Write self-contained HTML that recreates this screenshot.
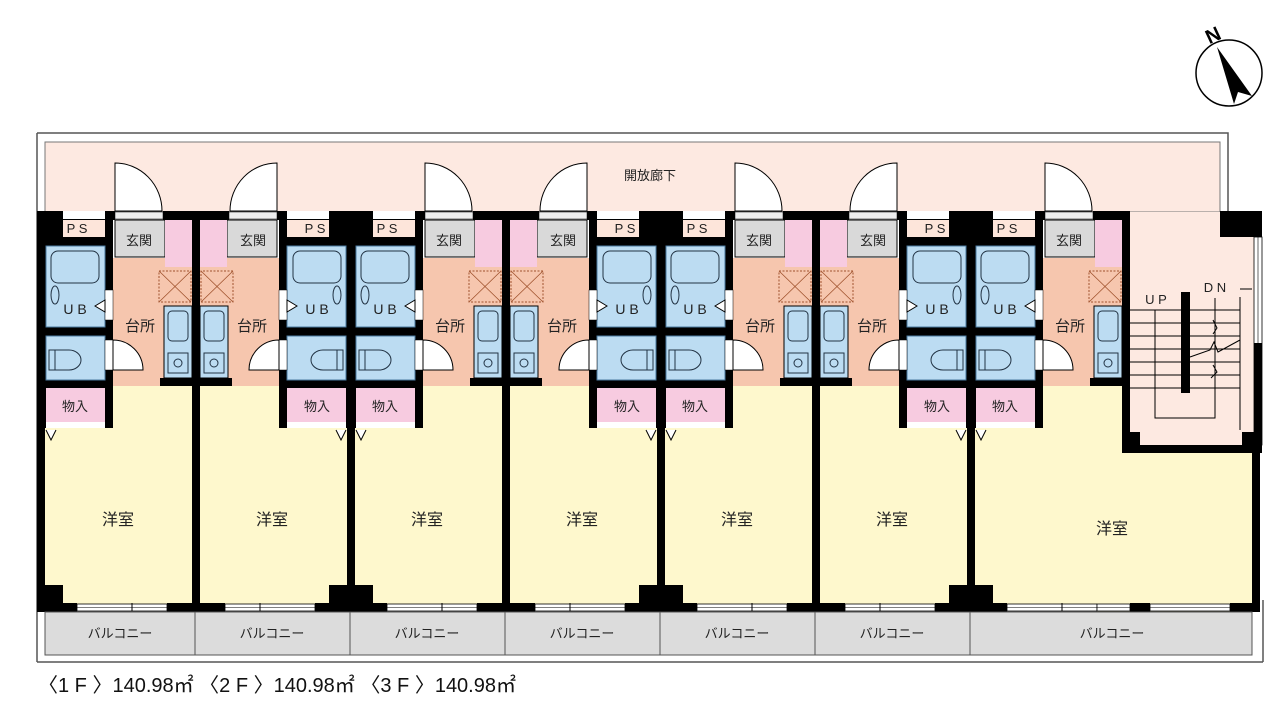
<!DOCTYPE html>
<html><head><meta charset="utf-8"><style>
html,body{margin:0;padding:0;background:#fff;}
svg{display:block;}
text{font-family:"Liberation Sans","Noto Sans CJK JP",sans-serif;fill:#222;}
.s{font-size:13px;text-anchor:middle;}
.r{font-size:16px;text-anchor:middle;}
</style></head><body>
<svg width="1280" height="720" viewBox="0 0 1280 720" xmlns="http://www.w3.org/2000/svg">
<defs>
<g id="u">
  <rect x="8" y="386" width="147" height="219" fill="#fef8cd"/>
  <rect x="76" y="258" width="79" height="128" fill="#f6c6ae"/>
  <rect x="8" y="211" width="68" height="217" fill="#000"/>
  <rect x="26" y="220" width="42" height="17" fill="#fde5da"/>
  <rect x="26" y="211" width="42" height="8" fill="#fff"/>
  <rect x="9" y="246" width="59" height="81" fill="#bcdcf2" stroke="#4a7aa0" stroke-width="1"/>
  <rect x="14" y="251" width="48" height="32" rx="7" fill="#bcdcf2" stroke="#234" stroke-width="1"/>
  <ellipse cx="18" cy="295" rx="4" ry="9" fill="none" stroke="#234"/>
  <rect x="9" y="336" width="59" height="44" fill="#bcdcf2" stroke="#4a7aa0" stroke-width="1"/>
  <path d="M12 350 h6 v20 h-6 z M18 350 h14 a12 10 0 0 1 0 20 h-14" fill="none" stroke="#234"/>
  <rect x="9" y="388" width="59" height="34" fill="#f7cbe0"/>
  <rect x="9" y="422" width="59" height="6" fill="#fff"/>
  <path d="M9 430 l5 10 l5 -10" fill="#fff" stroke="#000"/>
  <rect x="68" y="290" width="8" height="30" fill="#fff" stroke="#000" stroke-width=".5"/>
  <path d="M58 306 l10 -6 v12 z" fill="#fff" stroke="#000"/>
  <rect x="68" y="340" width="8" height="30" fill="#fff" stroke="#000" stroke-width=".5"/>
  <path d="M76 340 a30 30 0 0 1 30 30 h-30 z" fill="#fff" stroke="#000"/>
  <rect x="0" y="211" width="26" height="9" fill="#000"/>
  <rect x="68" y="211" width="10" height="9" fill="#000"/>
  <rect x="78" y="212" width="48" height="7" fill="#eee" stroke="#000" stroke-width=".5"/>
  <rect x="126" y="211" width="37" height="9" fill="#000"/>
  <rect x="78" y="220" width="50" height="37" fill="#d9d9d9" stroke="#000" stroke-width="1"/>
  <rect x="128" y="220" width="27" height="47" fill="#f7cbe0"/>
  <rect x="122" y="271" width="32" height="31" fill="none" stroke="#a0522d" stroke-dasharray="2 1.5"/>
  <path d="M122 271 L154 302 M154 271 L122 302" stroke="#a0522d" stroke-width=".8"/>
  <rect x="127" y="306" width="28" height="72" fill="#bcdcf2" stroke="#000"/>
  <rect x="131" y="311" width="20" height="30" rx="4" fill="none" stroke="#234"/>
  <rect x="131" y="353" width="20" height="20" fill="none" stroke="#234"/>
  <circle cx="141" cy="363" r="4" fill="none" stroke="#234"/>
  <rect x="123" y="378" width="40" height="8" fill="#000"/>
  <path d="M78 211 V163 a47 48 0 0 1 47 48 z" fill="#fff" stroke="#000"/>
  <rect x="0" y="211" width="8" height="401" fill="#000"/>
  <rect x="155" y="211" width="8" height="401" fill="#000"/>
  <rect x="0" y="603" width="40" height="9" fill="#000"/>
  <rect x="130" y="603" width="33" height="9" fill="#000"/>
  <rect x="8" y="585" width="18" height="20" fill="#000"/>
  <rect x="40" y="604" width="90" height="7" fill="#fff" stroke="#000" stroke-width=".8"/>
  <line x1="40" y1="607.5" x2="130" y2="607.5" stroke="#000" stroke-width=".6"/>
  <line x1="95" y1="603" x2="95" y2="611" stroke="#000"/>
</g>
</defs>
<rect width="1280" height="720" fill="#fff"/>
<path d="M37 133 H1228 V211" fill="none" stroke="#555" stroke-width="1.5"/>
<line x1="37" y1="133" x2="37" y2="662" stroke="#555" stroke-width="1.5"/>
<line x1="37" y1="662" x2="1263" y2="662" stroke="#555" stroke-width="1.5"/>
<line x1="1263" y1="600" x2="1263" y2="662" stroke="#555" stroke-width="1.5"/>
<rect x="45" y="142" width="1175" height="70" fill="#fde9e1" stroke="#777" stroke-width="1"/>
<text x="650" y="180" class="s">開放廊下</text>
<rect x="1128" y="212" width="126" height="235" fill="#fde9e1"/>
<use href="#u" x="37"/>
<use href="#u" transform="translate(355,0) scale(-1,1)"/>
<use href="#u" x="347"/>
<use href="#u" transform="translate(665,0) scale(-1,1)"/>
<use href="#u" x="657"/>
<use href="#u" transform="translate(975,0) scale(-1,1)"/>
<use href="#u" x="967"/>
<!-- unit7 room extension -->
<rect x="1122" y="445" width="136" height="8" fill="#000"/>
<rect x="1122" y="428" width="8" height="25" fill="#000"/>
<rect x="1120" y="453" width="132" height="150" fill="#fef8cd"/>
<rect x="1252" y="445" width="8" height="167" fill="#000"/>
<rect x="1097" y="603" width="155" height="9" fill="#fef8cd"/>
<rect x="1130" y="603" width="20" height="9" fill="#000"/>
<rect x="1230" y="603" width="30" height="9" fill="#000"/>
<rect x="1150" y="604" width="80" height="7" fill="#fff" stroke="#000" stroke-width=".8"/>
<line x1="1150" y1="607.5" x2="1230" y2="607.5" stroke="#000" stroke-width=".6"/>
<rect x="1097" y="604" width="33" height="7" fill="#fff" stroke="#000" stroke-width=".8"/>
<line x1="1097" y1="607.5" x2="1130" y2="607.5" stroke="#000" stroke-width=".6"/>
<!-- stair walls -->
<rect x="1220" y="211" width="42" height="26" fill="#000"/>
<rect x="1254" y="237" width="8" height="208" fill="#fff" stroke="#000" stroke-width=".8"/>
<line x1="1258" y1="237" x2="1258" y2="343" stroke="#000" stroke-width=".6"/>
<rect x="1254" y="343" width="8" height="110" fill="#000"/>
<rect x="1130" y="432" width="10" height="15" fill="#000"/>
<rect x="1242" y="432" width="12" height="15" fill="#000"/>
<g stroke="#000" stroke-width="1" fill="none">
  <line x1="1130" y1="310" x2="1240" y2="310"/>
  <line x1="1130" y1="323" x2="1240" y2="323"/>
  <line x1="1130" y1="336" x2="1240" y2="336"/>
  <line x1="1130" y1="349" x2="1240" y2="349"/>
  <line x1="1130" y1="362" x2="1240" y2="362"/>
  <line x1="1130" y1="375" x2="1240" y2="375"/>
  <line x1="1130" y1="388" x2="1240" y2="388"/>
  <path d="M1155 310 V418 H1215 V298"/>
  <path d="M1240 297 V430 M1240 289 H1252"/>
  <path d="M1190 357 L1210 350 L1214 342 L1218 352 L1240 340"/>
  <path d="M1213 320 L1217 328 L1213 334 M1213 365 L1217 372 L1211 378"/>
</g>
<rect x="1181" y="292" width="9" height="101" fill="#000"/>
<text x="1156" y="304" class="s">U P</text>
<text x="1215" y="292" class="s">D N</text>
<!-- balcony -->
<rect x="45" y="612" width="1207" height="43" fill="#dcdcdc" stroke="#555" stroke-width="1"/>
<g stroke="#555" stroke-width="1">
<line x1="195" y1="612" x2="195" y2="655"/><line x1="350" y1="612" x2="350" y2="655"/>
<line x1="505" y1="612" x2="505" y2="655"/><line x1="660" y1="612" x2="660" y2="655"/>
<line x1="815" y1="612" x2="815" y2="655"/><line x1="970" y1="612" x2="970" y2="655"/>
</g>
<text x="120" y="638" class="s">バルコニー</text><text x="272" y="638" class="s">バルコニー</text>
<text x="427" y="638" class="s">バルコニー</text><text x="582" y="638" class="s">バルコニー</text>
<text x="737" y="638" class="s">バルコニー</text><text x="892" y="638" class="s">バルコニー</text>
<text x="1112" y="638" class="s">バルコニー</text>
<text x="118" y="525" class="r">洋室</text><text x="272" y="525" class="r">洋室</text>
<text x="427" y="525" class="r">洋室</text><text x="582" y="525" class="r">洋室</text>
<text x="737" y="525" class="r">洋室</text><text x="892" y="525" class="r">洋室</text>
<text x="1112" y="534" class="r">洋室</text>
<g font-size="12">
<text x="77" y="233" class="s">P S</text><text x="139" y="245" class="s">玄関</text><text x="75" y="314" class="s" style="font-size:14px">U B</text><text x="140" y="331" class="s" style="font-size:15px">台所</text><text x="75" y="411" class="s">物入</text>
<text x="387" y="233" class="s">P S</text><text x="449" y="245" class="s">玄関</text><text x="385" y="314" class="s" style="font-size:14px">U B</text><text x="450" y="331" class="s" style="font-size:15px">台所</text><text x="385" y="411" class="s">物入</text>
<text x="697" y="233" class="s">P S</text><text x="759" y="245" class="s">玄関</text><text x="695" y="314" class="s" style="font-size:14px">U B</text><text x="760" y="331" class="s" style="font-size:15px">台所</text><text x="695" y="411" class="s">物入</text>
<text x="1007" y="233" class="s">P S</text><text x="1069" y="245" class="s">玄関</text><text x="1005" y="314" class="s" style="font-size:14px">U B</text><text x="1070" y="331" class="s" style="font-size:15px">台所</text><text x="1005" y="411" class="s">物入</text>
<text x="315" y="233" class="s">P S</text><text x="253" y="245" class="s">玄関</text><text x="317" y="314" class="s" style="font-size:14px">U B</text><text x="252" y="331" class="s" style="font-size:15px">台所</text><text x="317" y="411" class="s">物入</text>
<text x="625" y="233" class="s">P S</text><text x="563" y="245" class="s">玄関</text><text x="627" y="314" class="s" style="font-size:14px">U B</text><text x="562" y="331" class="s" style="font-size:15px">台所</text><text x="627" y="411" class="s">物入</text>
<text x="935" y="233" class="s">P S</text><text x="873" y="245" class="s">玄関</text><text x="937" y="314" class="s" style="font-size:14px">U B</text><text x="872" y="331" class="s" style="font-size:15px">台所</text><text x="937" y="411" class="s">物入</text>
</g>
<circle cx="1229" cy="73" r="33" fill="none" stroke="#000" stroke-width="1.5"/>
<path d="M1217 47 L1252 96 L1238 92 L1234 104 Z" fill="#000"/>
<text x="1213" y="42" font-size="20" font-weight="bold" transform="rotate(-25 1213 35)" text-anchor="middle" style="fill:#000">N</text>
<text x="38" y="692" font-size="20" style="fill:#111">〈1 F 〉140.98㎡ 〈2 F 〉140.98㎡ 〈3 F 〉140.98㎡</text>
</svg>
</body></html>
